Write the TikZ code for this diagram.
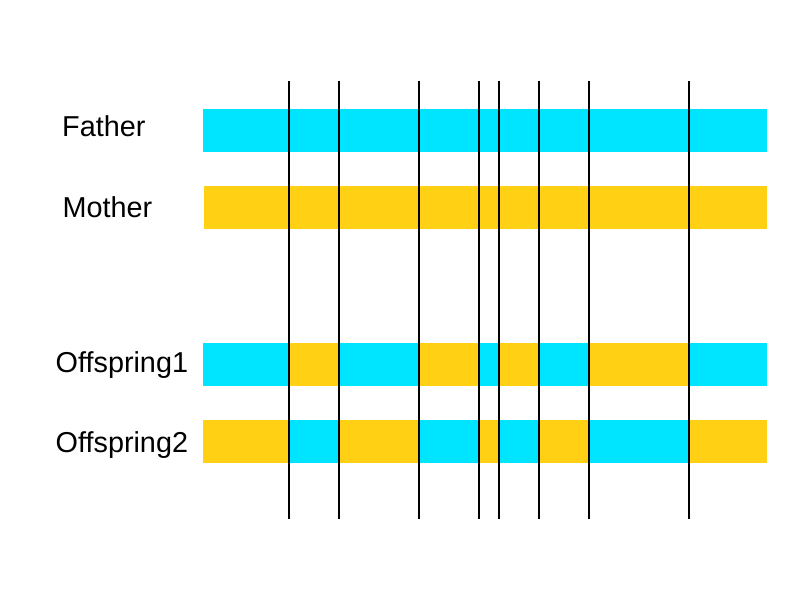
\documentclass[tikz,border=0pt]{standalone}
\usepackage{fontspec}
\setmainfont{Liberation Sans}
\definecolor{pcyan}{HTML}{00E5FF}
\definecolor{pyellow}{HTML}{FFD014}
\begin{document}
\begin{tikzpicture}[x=1pt,y=-1pt,
  lbl/.style={anchor=base west,inner sep=0pt,font=\fontsize{28.8}{30}\selectfont},
  cut/.style={line width=2pt,black}]
\useasboundingbox[fill=white] (0,0) rectangle (800,600);
% labels
\node[lbl] (father) at (62,136.7) {Father};
\node[lbl] (mother) at (62.5,217.3) {Mother};
\node[lbl] (off1) at (55.5,372.5) {Offspring1};
\node[lbl] (off2) at (55.5,452.3) {Offspring2};
% parent bars
\fill[pcyan] (203,109) rectangle (767,152);
\fill[pyellow] (204,186) rectangle (767,229);
% offspring bars
\def\bnds{203,289,339,419,479,499,539,589,689,767}
\foreach \a/\b [count=\i] in {203/289,289/339,339/419,419/479,479/499,499/539,539/589,589/689,689/767}{
  \pgfmathsetmacro{\odd}{int(mod(\i,2))}
  \ifnum\odd=1
    \fill[pcyan] (\a,343) rectangle (\b,386);
    \fill[pyellow] (\a,420) rectangle (\b,463);
  \else
    \fill[pyellow] (\a,343) rectangle (\b,386);
    \fill[pcyan] (\a,420) rectangle (\b,463);
  \fi
}
% crossover lines
\foreach \x [count=\j] in {289,339,419,479,499,539,589,689}{
  \coordinate (t\j) at (\x,81);
  \coordinate (b\j) at (\x,519);
  \draw[cut] (t\j) -- (b\j);
}
\end{tikzpicture}
\end{document}
